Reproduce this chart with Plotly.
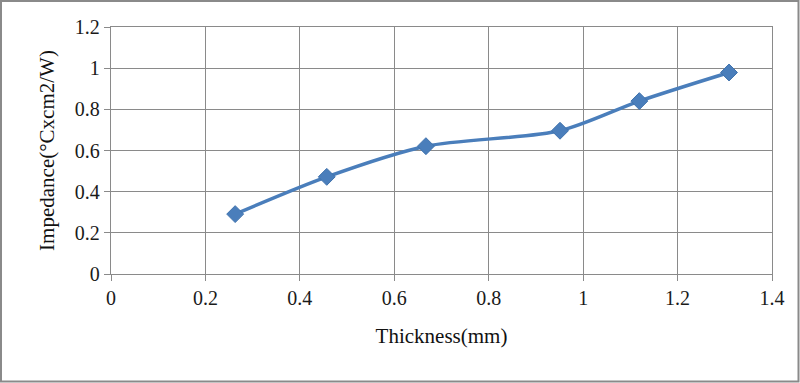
import plotly.graph_objects as go

thickness = [0.263, 0.457, 0.667, 0.951, 1.119, 1.309]
impedance = [0.291, 0.472, 0.621, 0.696, 0.840, 0.979]
x_ticks = [0, 0.2, 0.4, 0.6, 0.8, 1, 1.2, 1.4]
x_labels = ["0", "0.2", "0.4", "0.6", "0.8", "1", "1.2", "1.4"]
y_ticks = [0, 0.2, 0.4, 0.6, 0.8, 1, 1.2]
y_labels = ["0", "0.2", "0.4", "0.6", "0.8", "1", "1.2"]

W, H = 800, 383
L, R, T, B = 111, 28, 27, 109
pw, ph = W - L - R, H - T - B

tick_font = dict(family="'Liberation Serif', 'Times New Roman', serif", size=20, color="#1a1a1a")
title_font = dict(family="'Liberation Serif', 'Times New Roman', serif", size=21, color="#111111")

fig = go.Figure(go.Scatter(
    x=thickness, y=impedance, mode="lines+markers",
    line=dict(color="#4a7ebb", width=3.5, shape="spline", smoothing=0.8),
    marker=dict(symbol="diamond", size=13, color="#4a7ebb", line=dict(color="#3f72ad", width=1)),
))

axis_common = dict(showgrid=True, gridcolor="#8a8a8a", gridwidth=1.3, showline=True,
                   linecolor="#8a8a8a", linewidth=1.3, mirror=True, ticks="outside",
                   ticklen=6, tickcolor="#8a8a8a", tickwidth=1.3, zeroline=False,
                   tickfont=tick_font)

fig.update_xaxes(range=[0, 1.4], tickvals=x_ticks, ticktext=x_labels,
                 title=dict(text="Thickness(mm)", font=title_font, standoff=20), **axis_common)
fig.update_yaxes(range=[0, 1.2], tickvals=y_ticks, ticktext=y_labels,
                 title=dict(text="Impedance(°Cxcm2/W)", font=title_font, standoff=14), **axis_common)

fig.add_shape(type="rect", xref="paper", yref="paper",
              x0=(1 - L) / pw, x1=(W - 1.5 - L) / pw,
              y0=(H - T - B - (H - 1.5 - T)) / ph, y1=(H - B - 1) / ph,
              line=dict(color="#8a8a8a", width=2), layer="below")

fig.update_layout(width=W, height=H, margin=dict(l=L, r=R, t=T, b=B),
                  paper_bgcolor="white", plot_bgcolor="white", showlegend=False,
                  font=tick_font)

fig.write_html("out.html")
